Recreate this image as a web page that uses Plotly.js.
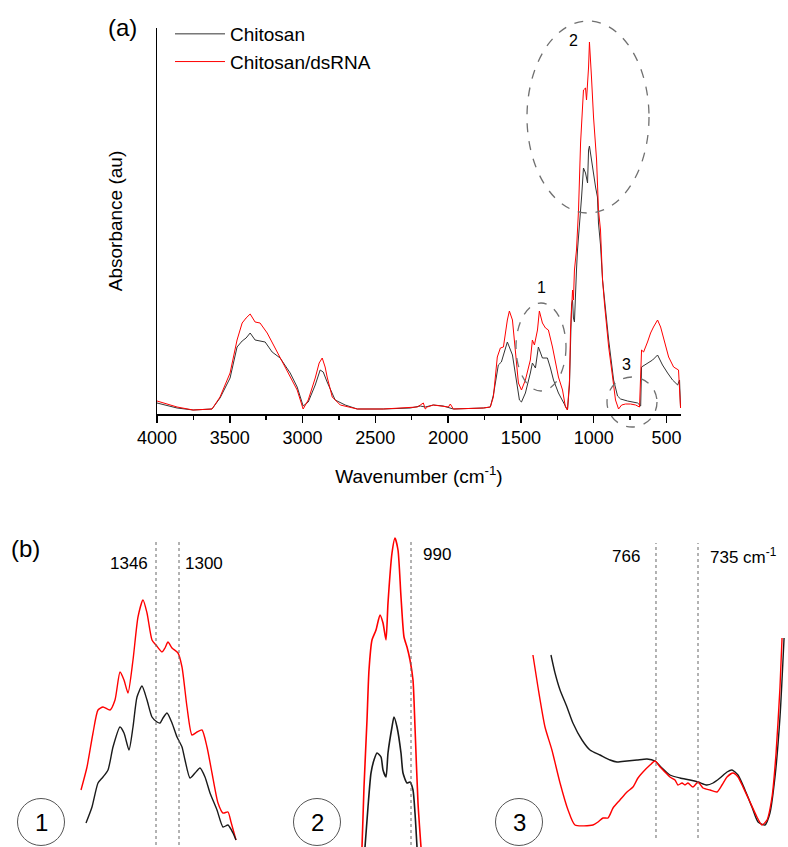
<!DOCTYPE html>
<html>
<head>
<meta charset="utf-8">
<script src="https://cdn.plot.ly/plotly-3.0.1.min.js"></script>
<style>html,body{margin:0;padding:0;background:#fff;}#chart{width:788px;height:847px;}</style>
</head>
<body>
<div id="chart"></div>
<script>
// ---------- Panel (a): full spectra ----------
const chitosanWnA = [4000,3862,3752,3622,3567,3498,3450,3415,3388,3360,3326,3292,3257,3209,3154,3085,3037,2996,2961,2913,2879,2858,2831,2776,2707,2624,2446,2260,2191,2157,2102,2033,1964,1758,1710,1689,1655,1634,1614,1593,1558,1538,1510,1496,1469,1435,1421,1400,1380,1352,1318,1297,1276,1242,1208,1180,1166,1159,1152,1145,1139,1132,1125,1118,1111,1097,1083,1070,1056,1042,1035,1029,1015,1001,987,974,967,953,939,918,897,863,836,815,767,698,677,671,630,595,561,527,492,458,423,410,403];
const chitosanAbsA = [0.11,0.06,0.04,0.05,0.16,0.36,0.67,0.73,0.76,0.81,0.74,0.73,0.72,0.62,0.56,0.41,0.27,0.08,0.12,0.29,0.44,0.42,0.32,0.14,0.09,0.05,0.05,0.06,0.08,0.07,0.09,0.08,0.05,0.06,0.07,0.19,0.49,0.52,0.62,0.72,0.59,0.39,0.14,0.12,0.21,0.41,0.51,0.46,0.67,0.56,0.56,0.46,0.34,0.21,0.11,0.04,0.29,0.74,1.09,1.14,0.96,0.92,1.24,1.44,1.64,1.87,2.17,2.46,2.41,2.31,2.64,2.68,2.54,2.37,2.27,2.17,1.91,1.69,1.34,1.04,0.74,0.34,0.18,0.15,0.13,0.11,0.08,0.47,0.51,0.54,0.59,0.49,0.41,0.34,0.29,0.34,0.06];

const dsrnaWnA = [4000,3862,3752,3622,3567,3498,3450,3415,3388,3360,3326,3292,3243,3175,3106,3037,2996,2961,2913,2886,2865,2845,2831,2796,2741,2673,2624,2446,2260,2212,2191,2170,2157,2143,2102,2033,1998,1985,1964,1758,1710,1689,1662,1641,1620,1593,1579,1558,1538,1517,1496,1469,1435,1421,1407,1386,1373,1352,1331,1311,1283,1262,1242,1214,1194,1180,1166,1159,1152,1145,1139,1132,1118,1104,1090,1076,1070,1056,1049,1035,1029,1015,1001,980,967,953,939,925,911,897,870,850,829,808,781,747,712,685,671,657,630,609,589,561,540,520,485,451,417,403];
const dsrnaAbsA = [0.13,0.07,0.04,0.05,0.17,0.41,0.74,0.91,0.96,1.00,0.92,0.91,0.81,0.62,0.44,0.24,0.05,0.14,0.36,0.51,0.56,0.47,0.37,0.17,0.09,0.07,0.05,0.05,0.06,0.07,0.09,0.11,0.05,0.07,0.09,0.08,0.07,0.10,0.05,0.06,0.07,0.17,0.57,0.66,0.67,0.94,1.03,0.94,0.61,0.31,0.24,0.34,0.54,0.74,0.69,0.84,1.03,0.91,0.86,0.84,0.67,0.51,0.37,0.24,0.07,0.04,0.34,0.84,1.14,1.24,1.14,1.44,1.64,2.04,2.71,3.11,3.24,3.26,3.14,3.47,3.72,3.37,2.97,2.54,2.04,1.84,1.34,1.09,0.87,0.67,0.37,0.14,0.05,0.09,0.10,0.10,0.09,0.07,0.64,0.62,0.72,0.81,0.87,0.94,0.87,0.76,0.57,0.47,0.44,0.06];

// ---------- Panel (b) zoom 1: 1500-1190 cm-1 ----------
const zoom1WnDsrna = [1496,1484,1472,1462,1452,1438,1428,1418,1410,1402,1392,1382,1372,1364,1354,1346,1334,1328,1322,1314,1302,1294,1284,1274,1264,1254,1244,1234,1222,1212,1202,1196,1186];
const zoom1AbsDsrna = [0.57,0.80,1.14,1.37,1.40,1.37,1.47,1.75,1.67,1.54,1.87,2.30,2.47,2.34,2.07,2.02,1.95,1.99,2.05,1.99,1.94,1.80,1.40,1.12,1.15,1.17,1.00,0.74,0.44,0.34,0.35,0.25,0.07];
const zoom1WnChitosan = [1486,1474,1462,1452,1442,1432,1418,1410,1400,1392,1384,1374,1364,1354,1344,1338,1332,1324,1314,1304,1294,1288,1278,1268,1258,1248,1238,1224,1212,1202,1192,1186];
const zoom1AbsChitosan = [0.24,0.40,0.64,0.70,0.77,1.00,1.20,1.14,0.97,1.20,1.50,1.61,1.47,1.30,1.25,1.24,1.29,1.34,1.24,1.10,1.00,0.87,0.69,0.74,0.79,0.70,0.54,0.37,0.20,0.22,0.14,0.07];
const zoom1Marks = [1346, 1300];

// ---------- Panel (b) zoom 2: main band ----------
const zoom2WnDsrna = [1088,1084,1078,1074,1068,1060,1052,1046,1040,1036,1028,1022,1016,1010,1004,998,992,986,982,976,970];
const zoom2AbsDsrna = [0.00,0.60,1.27,1.77,2.07,2.17,2.32,2.24,2.07,2.44,2.94,3.09,2.97,2.50,2.10,2.00,1.87,1.67,1.20,0.44,0.00];
const zoom2WnChitosan = [1082,1076,1070,1064,1058,1050,1046,1040,1036,1028,1024,1018,1010,1006,998,992,986,982,978];
const zoom2AbsChitosan = [0.00,0.40,0.74,0.87,0.94,0.90,0.77,0.70,0.94,1.20,1.30,1.20,0.94,0.74,0.64,0.65,0.57,0.34,0.00];
const zoom2Marks = [990];

// ---------- Panel (b) zoom 3: 860-670 cm-1 ----------
const zoom3WnDsrna = [856.8,853.1,847.9,842.8,836.8,830.9,825.8,812.5,808.8,805.1,801.4,797.7,792.6,787.4,783.0,779.3,775.6,770.4,766.7,763.0,759.4,755.7,752.0,749.8,746.8,744.6,742.4,738.7,735.0,731.3,726.1,721.0,717.3,713.6,709.2,705.5,701.8,696.6,691.5,687.8,684.1,680.4,677.4,674.5,673.0];
const zoom3AbsDsrna = [1.92,1.60,1.20,0.97,0.64,0.37,0.22,0.22,0.25,0.29,0.29,0.39,0.47,0.55,0.60,0.69,0.75,0.82,0.86,0.80,0.75,0.70,0.67,0.62,0.64,0.62,0.64,0.60,0.65,0.59,0.57,0.55,0.62,0.70,0.74,0.70,0.60,0.45,0.30,0.22,0.27,0.50,0.94,1.60,2.09];
const zoom3WnChitosan = [843.5,840.5,836.8,831.7,827.3,820.6,814.7,807.3,799.9,794.8,787.4,780.0,772.6,766.7,761.6,755.7,748.3,740.9,735.0,728.4,723.9,718.8,713.6,709.9,705.5,700.3,695.2,690.7,685.6,681.9,678.2,674.5,671.5];
const zoom3AbsChitosan = [1.92,1.74,1.57,1.40,1.24,1.07,0.97,0.92,0.87,0.85,0.86,0.87,0.88,0.86,0.79,0.72,0.69,0.67,0.65,0.62,0.64,0.69,0.75,0.77,0.72,0.57,0.40,0.25,0.22,0.34,0.70,1.30,2.09];
const zoom3Marks = [766, 735];

const RED = '#ff0000', BLK = '#1a1a1a';
const FONT = 'Liberation Sans, Arial, sans-serif';
const smooth = {shape: 'spline', smoothing: 0.6};

const traces = [
  {x: chitosanWnA, y: chitosanAbsA, type: 'scatter', mode: 'lines', name: 'Chitosan',
   line: {color: '#333333', width: 1}, xaxis: 'x', yaxis: 'y'},
  {x: dsrnaWnA, y: dsrnaAbsA, type: 'scatter', mode: 'lines', name: 'Chitosan/dsRNA',
   line: {color: RED, width: 1}, xaxis: 'x', yaxis: 'y'},
  {x: zoom1WnDsrna, y: zoom1AbsDsrna, mode: 'lines', showlegend: false, line: Object.assign({color: RED, width: 1.4}, smooth), xaxis: 'x2', yaxis: 'y2'},
  {x: zoom1WnChitosan, y: zoom1AbsChitosan, mode: 'lines', showlegend: false, line: Object.assign({color: BLK, width: 1.4}, smooth), xaxis: 'x2', yaxis: 'y2'},
  {x: zoom2WnDsrna, y: zoom2AbsDsrna, mode: 'lines', showlegend: false, line: Object.assign({color: RED, width: 1.6}, smooth), xaxis: 'x3', yaxis: 'y3'},
  {x: zoom2WnChitosan, y: zoom2AbsChitosan, mode: 'lines', showlegend: false, line: Object.assign({color: BLK, width: 1.6}, smooth), xaxis: 'x3', yaxis: 'y3'},
  {x: zoom3WnChitosan, y: zoom3AbsChitosan, mode: 'lines', showlegend: false, line: Object.assign({color: BLK, width: 1.4}, smooth), xaxis: 'x4', yaxis: 'y4'},
  {x: zoom3WnDsrna, y: zoom3AbsDsrna, mode: 'lines', showlegend: false, line: Object.assign({color: RED, width: 1.4}, smooth), xaxis: 'x4', yaxis: 'y4'}
];

const W = 788, H = 847;
const px = v => v / W, py = v => 1 - v / H;

const hidden = {visible: false, fixedrange: true};

const shapes = [];
// dashed ellipses on panel (a)
[[516,566,303,391],[527,649,21,213],[607,657,377,427]].forEach(b => shapes.push({
  type: 'circle', xref: 'paper', yref: 'paper', x0: px(b[0]), x1: px(b[1]), y0: py(b[3]), y1: py(b[2]),
  line: {color: '#707070', width: 1.3, dash: 'dash'}
}));
// circled numbers in panel (b)
[41, 317, 519].forEach(c => shapes.push({
  type: 'circle', xref: 'paper', yref: 'paper', x0: px(c - 23.5), x1: px(c + 23.5), y0: py(845.5), y1: py(798.5),
  line: {color: '#555555', width: 1}
}));
// dotted marker lines
zoom1Marks.forEach(m => shapes.push({type: 'line', xref: 'x2', yref: 'paper', x0: m, x1: m, y0: py(845), y1: py(542), line: {color: '#666', width: 1, dash: 'dot'}}));
zoom2Marks.forEach(m => shapes.push({type: 'line', xref: 'x3', yref: 'paper', x0: m, x1: m, y0: py(845), y1: py(540), line: {color: '#666', width: 1, dash: 'dot'}}));
zoom3Marks.forEach(m => shapes.push({type: 'line', xref: 'x4', yref: 'paper', x0: m, x1: m, y0: py(838), y1: py(543), line: {color: '#666', width: 1, dash: 'dot'}}));

const ann = (text, x, y, size, opts) => Object.assign({text, x: px(x), y: py(y), xref: 'paper', yref: 'paper',
  showarrow: false, font: {family: FONT, size, color: '#000'}, xanchor: 'center', yanchor: 'middle'}, opts || {});

const annotations = [
  ann('(a)', 122, 27, 24),
  ann('(b)', 25, 548, 24),
  ann('1', 541, 287, 16),
  ann('2', 573, 41, 16),
  ann('3', 626, 364, 16),
  ann(String(zoom1Marks[0]), 129, 563, 17),
  ann(String(zoom1Marks[1]), 204, 563, 17),
  ann(String(zoom2Marks[0]), 437, 554, 17),
  ann(String(zoom3Marks[0]), 626, 556, 17),
  ann(zoom3Marks[1] + ' cm<sup>-1</sup>', 708, 556, 17, {xanchor: 'left'}),
  ann('1', 41, 822, 24),
  ann('2', 317, 822, 24),
  ann('3', 519, 822, 24)
];

const layout = {
  width: W, height: H,
  margin: {l: 0, r: 0, t: 0, b: 0},
  paper_bgcolor: '#fff', plot_bgcolor: 'rgba(0,0,0,0)',
  font: {family: FONT, color: '#000'},
  showlegend: true,
  legend: {x: px(170), y: py(15), xanchor: 'left', yanchor: 'top', bgcolor: 'rgba(0,0,0,0)',
           font: {family: FONT, size: 19, color: '#000'}, itemwidth: 50, tracegroupgap: 0},
  xaxis: {domain: [px(157), px(681)], range: [4000, 400], anchor: 'y',
          showgrid: false, zeroline: false, showline: true, linecolor: '#000', linewidth: 1.5,
          ticks: 'outside', ticklen: 7, tickwidth: 1.5, tickcolor: '#000', dtick: 500, tick0: 0,
          minor: {ticks: 'outside', ticklen: 4, tickwidth: 1.5, tickcolor: '#000', dtick: 250, tick0: 0, showgrid: false},
          tickfont: {family: FONT, size: 18, color: '#000'},
          title: {text: 'Wavenumber (cm<sup>-1</sup>)', font: {family: FONT, size: 19, color: '#000'}, standoff: 22},
          fixedrange: true},
  yaxis: {domain: [py(414), py(28)], range: [0, 3.86], anchor: 'x',
          showgrid: false, zeroline: false, showline: true, linecolor: '#000', linewidth: 1.5,
          ticks: '', showticklabels: false,
          title: {text: 'Absorbance (au)', font: {family: FONT, size: 19, color: '#000'}, standoff: 28},
          fixedrange: true},
  xaxis2: Object.assign({domain: [px(60), px(250)], range: [1538, 1158], anchor: 'y2'}, hidden),
  yaxis2: Object.assign({domain: [0, py(530)], range: [0, 3.17], anchor: 'x2'}, hidden),
  xaxis3: Object.assign({domain: [px(300), px(470)], range: [1212, 872], anchor: 'y3'}, hidden),
  yaxis3: Object.assign({domain: [0, py(530)], range: [0, 3.17], anchor: 'x3'}, hidden),
  xaxis4: Object.assign({domain: [px(500), 1], range: [881.1, 668.6], anchor: 'y4'}, hidden),
  yaxis4: Object.assign({domain: [0, py(530)], range: [0, 3.17], anchor: 'x4'}, hidden),
  shapes, annotations
};

Plotly.newPlot('chart', traces, layout, {displayModeBar: false, staticPlot: true});
</script>
</body>
</html>
